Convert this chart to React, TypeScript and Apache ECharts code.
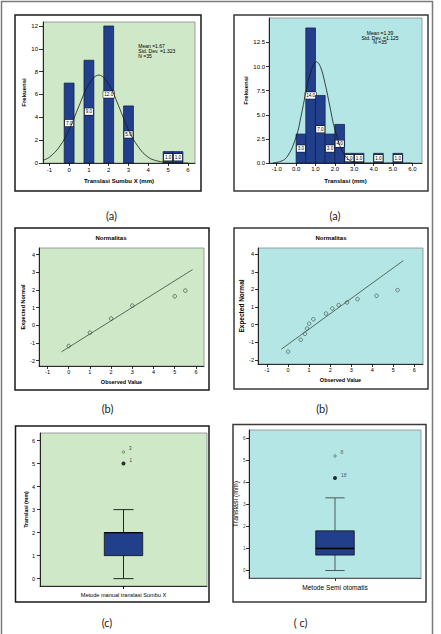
import React, { useEffect, useRef } from "react";
import * as echarts from "echarts";

// ---------- (a) left histogram ----------
const histLeftCenters = [0, 1, 2, 3, 5, 5.5];
const histLeftCounts = [7, 9, 12, 5, 1, 1];
const histLeftBinWidth = 0.5;
const histLeftCurveX = [-1.3, -1, -0.5, 0, 0.5, 1, 1.5, 2, 2.5, 3, 3.5, 4, 4.5, 5, 5.5, 6];
const histLeftCurveY = [0.25, 0.5, 1.4, 2.9, 5.0, 6.9, 7.7, 6.9, 5.0, 2.9, 1.4, 0.5, 0.16, 0.04, 0.01, 0];
const histLeftStats = ["Mean =1.67", "Std. Dev. =1.323", "N =35"];
const histLeftXTicks = [-1, 0, 1, 2, 3, 4, 5, 6];
const histLeftYTicks = [0, 2, 4, 6, 8, 10, 12];

// ---------- (a) right histogram ----------
const histRightStarts = [0, 0.5, 1, 1.5, 2, 2.5, 3, 4, 5];
const histRightCounts = [3, 14, 7, 3, 4, 1, 1, 1, 1];
const histRightBinWidth = 0.5;
const histRightCurveX = [-1.2, -1, -0.5, 0, 0.25, 0.5, 0.75, 1.05, 1.25, 1.5, 1.75, 2, 2.5, 3, 3.5, 4, 5, 6];
const histRightCurveY = [0.02, 0.06, 0.56, 2.7, 4.8, 7.3, 9.4, 10.5, 10.0, 8.2, 5.8, 3.5, 0.8, 0.1, 0.01, 0, 0, 0];
const histRightStats = ["Mean =1.39", "Std. Dev. =1.125", "N =35"];
const histRightXTicks = [-1, 0, 1, 2, 3, 4, 5, 6];
const histRightYTicks = [0, 2.5, 5, 7.5, 10, 12.5];

// ---------- (b) normal Q-Q plots ----------
const qqLeftObserved = [0, 1, 2, 3, 5, 5.5];
const qqLeftExpected = [-1.17, -0.42, 0.38, 1.11, 1.64, 1.96];
const qqLeftLineX = [-0.34, 5.84];
const qqLeftLineY = [-1.5, 3.15];
const qqRightObserved = [0, 0.6, 0.8, 0.9, 1.0, 1.2, 1.8, 2.1, 2.4, 2.8, 3.3, 4.2, 5.2];
const qqRightExpected = [-1.53, -0.86, -0.52, -0.22, 0.06, 0.31, 0.63, 0.92, 1.11, 1.26, 1.45, 1.64, 1.96];
const qqRightLineX = [-0.32, 5.48];
const qqRightLineY = [-1.39, 3.64];
const qqXTicks = [-1, 0, 1, 2, 3, 4, 5, 6];
const qqYTicks = [-2, -1, 0, 1, 2, 3, 4];
const qqTitle = "Normalitas";

// ---------- (c) box plots ----------
const boxLeftCategory = ["Metode manual translasi Sumbu X"];
const boxLeftStats = [0, 1, 2, 2, 3]; // min, Q1, median, Q3, max
const boxLeftOutlierValues = [5.5, 5.0];
const boxLeftOutlierLabels = ["3", "1"];
const boxLeftOutlierKinds = ["o", "*"];
const boxRightCategory = ["Metode Semi otomatis"];
const boxRightStats = [0, 0.7, 1.0, 1.8, 3.3];
const boxRightOutlierValues = [5.2, 4.2];
const boxRightOutlierLabels = ["8", "18"];
const boxRightOutlierKinds = ["o", "*"];
const boxYTicks = [0, 1, 2, 3, 4, 5, 6];

const captionsLeft = ["(a)", "(b)", "(c)"];
const captionsRight = ["(a)", "(b)", "( c)"];

// ---------- styles ----------
const GREEN = "#cfe8c8";
const CYAN = "#b3e6e4";
const NAVY = "#223f8c";
const FONT = "Liberation Sans";

function valueAxis(o: any) {
  return {
    type: "value",
    gridIndex: o.grid,
    min: o.min,
    max: o.max,
    splitLine: { show: false },
    axisLine: { show: true, onZero: false, lineStyle: { color: "#000", width: 0.8 } },
    axisTick: {
      show: true,
      length: o.tickLen ?? 3,
      customValues: o.ticks,
      lineStyle: { color: "#000", width: 0.8 },
    },
    axisLabel: {
      customValues: o.ticks,
      fontSize: o.fontSize ?? 6,
      margin: o.margin ?? 4,
      color: o.labelColor ?? "#000",
      fontFamily: FONT,
      formatter: o.fmt,
    },
    name: o.name,
    nameLocation: "middle",
    nameGap: o.nameGap,
    nameTextStyle: {
      fontSize: o.nameSize ?? 6,
      fontWeight: o.nameWeight ?? "bold",
      color: "#000",
      fontFamily: FONT,
    },
  };
}

function histSeries(gridIdx: number, items: number[][], fmt: (v: number) => string) {
  return {
    type: "custom",
    xAxisIndex: gridIdx,
    yAxisIndex: gridIdx,
    data: items,
    encode: { x: [0, 1], y: 2 },
    renderItem: (_p: any, api: any) => {
      const x0 = api.value(0);
      const x1 = api.value(1);
      const c = api.value(2);
      const tl = api.coord([x0, c]);
      const br = api.coord([x1, 0]);
      const mid = api.coord([(x0 + x1) / 2, c / 2]);
      return {
        type: "group",
        children: [
          {
            type: "rect",
            shape: { x: tl[0], y: tl[1], width: br[0] - tl[0], height: br[1] - tl[1] },
            style: { fill: NAVY, stroke: "#0c1b44", lineWidth: 0.7 },
          },
          {
            type: "text",
            x: mid[0],
            y: mid[1],
            style: {
              text: fmt(c),
              fill: "#000",
              fontSize: 4.6,
              fontFamily: FONT,
              align: "center",
              verticalAlign: "middle",
              backgroundColor: "#fff",
              borderColor: "#000",
              borderWidth: 0.5,
              padding: [1, 1, 0.5, 1],
            },
          },
        ],
      };
    },
  };
}

function curveSeries(gridIdx: number, xs: number[], ys: number[]) {
  return {
    type: "line",
    xAxisIndex: gridIdx,
    yAxisIndex: gridIdx,
    data: xs.map((x, i) => [x, ys[i]]),
    smooth: 0.4,
    symbol: "none",
    lineStyle: { color: "#1a1a1a", width: 0.8 },
    z: 5,
  };
}

function qqSeries(gridIdx: number, xs: number[], ys: number[], lx: number[], ly: number[], color: string) {
  return [
    {
      type: "line",
      xAxisIndex: gridIdx,
      yAxisIndex: gridIdx,
      data: lx.map((x, i) => [x, ly[i]]),
      symbol: "none",
      lineStyle: { color: "#3c4a3c", width: 0.8 },
    },
    {
      type: "scatter",
      xAxisIndex: gridIdx,
      yAxisIndex: gridIdx,
      data: xs.map((x, i) => [x, ys[i]]),
      symbol: "circle",
      symbolSize: 3.6,
      itemStyle: { color: "rgba(0,0,0,0)", borderColor: color, borderWidth: 0.8 },
    },
  ];
}

function boxSeries(gridIdx: number, stats: number[], halfBox: number, halfCap: number, whiskerColor: string) {
  return {
    type: "custom",
    xAxisIndex: gridIdx,
    yAxisIndex: gridIdx,
    data: [[0, ...stats]],
    encode: { x: 0, y: [1, 2, 3, 4, 5] },
    renderItem: (_p: any, api: any) => {
      const band = api.size([1, 0])[0];
      const cx = api.coord([0, 0])[0];
      const y = (k: number) => api.coord([0, api.value(k)])[1];
      const yMin = y(1), yQ1 = y(2), yMed = y(3), yQ3 = y(4), yMax = y(5);
      const hb = band * halfBox;
      const hc = band * halfCap;
      const ls = { stroke: whiskerColor, lineWidth: 1 };
      return {
        type: "group",
        children: [
          { type: "line", shape: { x1: cx, y1: yQ1, x2: cx, y2: yMin }, style: ls },
          { type: "line", shape: { x1: cx, y1: yQ3, x2: cx, y2: yMax }, style: ls },
          { type: "line", shape: { x1: cx - hc, y1: yMin, x2: cx + hc, y2: yMin }, style: ls },
          { type: "line", shape: { x1: cx - hc, y1: yMax, x2: cx + hc, y2: yMax }, style: ls },
          {
            type: "rect",
            shape: { x: cx - hb, y: yQ3, width: 2 * hb, height: yQ1 - yQ3 },
            style: { fill: NAVY, stroke: "#111", lineWidth: 0.8 },
          },
          { type: "line", shape: { x1: cx - hb, y1: yMed, x2: cx + hb, y2: yMed }, style: { stroke: "#000", lineWidth: 1.3 } },
        ],
      };
    },
  };
}

function outlierSeries(gridIdx: number, values: number[], labels: string[], kinds: string[], labelSize: number, labelColor: string) {
  return {
    type: "scatter",
    xAxisIndex: gridIdx,
    yAxisIndex: gridIdx,
    data: values.map((v, i) => ({
      value: [0, v],
      symbolSize: kinds[i] === "*" ? 4 : 2.4,
      itemStyle:
        kinds[i] === "*"
          ? { color: "#000" }
          : { color: "rgba(0,0,0,0)", borderColor: "#333", borderWidth: 0.7 },
      label: {
        show: true,
        formatter: labels[i],
        position: "right",
        offset: [-1, -3.5],
        fontSize: labelSize,
        color: labelColor,
        fontFamily: FONT,
      },
    })),
    z: 6,
  };
}

function text(x: number, y: number, t: string, size: number, opts: any = {}) {
  return {
    type: "text",
    x,
    y,
    z: 100,
    style: {
      text: t,
      fontSize: size,
      fontFamily: opts.family ?? FONT,
      fontWeight: opts.weight ?? "normal",
      fill: opts.color ?? "#000",
      align: opts.align ?? "center",
      verticalAlign: "middle",
      textAlign: opts.align ?? "center",
      textVerticalAlign: "middle",
    },
  };
}

function box(x: number, y: number, w: number, h: number, color: string, lw = 1.5) {
  return {
    type: "rect",
    z: 90,
    shape: { x, y, width: w, height: h },
    style: { fill: "none", stroke: color, lineWidth: lw },
  };
}

export default function App() {
  const ref = useRef<HTMLDivElement>(null);

  useEffect(() => {
    const chart = echarts.init(ref.current!, null, { renderer: "svg" });

    const histLeftItems = histLeftCenters.map((c, i) => [c - histLeftBinWidth / 2, c + histLeftBinWidth / 2, histLeftCounts[i]]);
    const histRightItems = histRightStarts.map((s, i) => [s, s + histRightBinWidth, histRightCounts[i]]);
    const fmt1 = (v: number) => v.toFixed(1);

    const grids = [
      { left: 43, top: 22, width: 152, height: 141, bg: GREEN },
      { left: 269, top: 18, width: 153, height: 145, bg: CYAN },
      { left: 39, top: 248, width: 165, height: 118, bg: GREEN },
      { left: 258, top: 248, width: 165, height: 116, bg: CYAN },
      { left: 40, top: 433, width: 167, height: 153, bg: GREEN },
      { left: 249, top: 430, width: 172, height: 148, bg: CYAN },
    ].map((g) => ({
      left: g.left,
      top: g.top,
      width: g.width,
      height: g.height,
      show: true,
      backgroundColor: g.bg,
      borderColor: "#8a8a8a",
      borderWidth: 0.8,
      containLabel: false,
    }));

    const option: any = {
      animation: false,
      textStyle: { fontFamily: FONT },
      grid: grids,
      xAxis: [
        valueAxis({ grid: 0, min: -1.32, max: 6.36, ticks: histLeftXTicks, name: "Translasi Sumbu X (mm)", nameGap: 15, margin: 4 }),
        valueAxis({ grid: 1, min: -1.4, max: 6.5, ticks: histRightXTicks, fmt: fmt1, name: "Translasi (mm)", nameGap: 15, margin: 3 }),
        valueAxis({ grid: 2, min: -1.4, max: 6.38, ticks: qqXTicks, name: "Observed Value", nameGap: 13, margin: 3, fontSize: 5.5, nameSize: 5.5 }),
        valueAxis({ grid: 3, min: -1.43, max: 6.41, ticks: qqXTicks, name: "Observed Value", nameGap: 13, margin: 3, fontSize: 5.5, nameSize: 5.5 }),
        {
          type: "category",
          gridIndex: 4,
          data: boxLeftCategory,
          axisLine: { show: true, onZero: false, lineStyle: { color: "#000", width: 0.8 } },
          axisTick: { show: true, alignWithLabel: true, length: 3, lineStyle: { color: "#000" } },
          axisLabel: { fontSize: 5.6, margin: 6, color: "#000", fontFamily: FONT },
        },
        {
          type: "category",
          gridIndex: 5,
          data: boxRightCategory,
          axisLine: { show: true, onZero: false, lineStyle: { color: "#333", width: 0.8 } },
          axisTick: { show: true, alignWithLabel: true, length: 3, lineStyle: { color: "#333" } },
          axisLabel: { fontSize: 6.6, margin: 6, color: "#000", fontFamily: FONT },
        },
      ],
      yAxis: [
        valueAxis({ grid: 0, min: 0, max: 12.35, ticks: histLeftYTicks, name: "Frekuensi", nameGap: 12, margin: 5, tickLen: 4 }),
        valueAxis({ grid: 1, min: 0, max: 15.03, ticks: histRightYTicks, fmt: fmt1, name: "Frekuensi", nameGap: 17, margin: 4, tickLen: 3 }),
        valueAxis({ grid: 2, min: -2.3, max: 4.37, ticks: qqYTicks, name: "Expected Normal", nameGap: 11, margin: 4, fontSize: 5.5, nameSize: 5.5 }),
        valueAxis({ grid: 3, min: -2.23, max: 4.35, ticks: qqYTicks, name: "Expected Normal", nameGap: 8, margin: 4, fontSize: 5.5, nameSize: 6.5 }),
        valueAxis({ grid: 4, min: -0.32, max: 6.33, ticks: boxYTicks, name: "Translasi (mm)", nameGap: 12, margin: 5, fontSize: 5.5, nameSize: 5.2 }),
        valueAxis({ grid: 5, min: -0.34, max: 6.38, ticks: boxYTicks, name: "Translasi (mm)", nameGap: 8, margin: 3.5, fontSize: 4.6, nameSize: 7, nameWeight: "normal", labelColor: "#444" }),
      ],
      series: [
        histSeries(0, histLeftItems, fmt1),
        curveSeries(0, histLeftCurveX, histLeftCurveY),
        histSeries(1, histRightItems, fmt1),
        curveSeries(1, histRightCurveX, histRightCurveY),
        ...qqSeries(2, qqLeftObserved, qqLeftExpected, qqLeftLineX, qqLeftLineY, "#2a3a2a"),
        ...qqSeries(3, qqRightObserved, qqRightExpected, qqRightLineX, qqRightLineY, "#3a4a4a"),
        boxSeries(4, boxLeftStats, 0.115, 0.06, "#1e2a1e"),
        outlierSeries(4, boxLeftOutlierValues, boxLeftOutlierLabels, boxLeftOutlierKinds, 4.5, "#000"),
        boxSeries(5, boxRightStats, 0.112, 0.056, "#4a5a5a"),
        outlierSeries(5, boxRightOutlierValues, boxRightOutlierLabels, boxRightOutlierKinds, 5, "#333"),
      ],
      graphic: [
        box(1.5, 1.5, 431, 650, "#7a7a7a", 1.5),
        box(15, 15, 186, 176, "#1a1a1a"),
        box(234, 15, 194, 176, "#3a3a3a"),
        box(15, 228, 194, 162, "#1a1a1a"),
        box(234, 228, 194, 161, "#3a3a3a"),
        box(15.5, 426, 193.5, 176, "#1a1a1a"),
        box(233, 424.5, 193, 177.5, "#3a3a3a"),
        ...histLeftStats.map((s, i) => text(138.3, 46.2 + i * 4.7, s, 5, { align: "left" })),
        ...histRightStats.map((s, i) => text(380, 33.3 + i * 4.5, s, 5)),
        text(111, 237.5, qqTitle, 6, { weight: "bold" }),
        text(331, 237.5, qqTitle, 6, { weight: "bold" }),
        text(111.5, 215, captionsLeft[0], 11, { family: "Lato", color: "#222" }),
        text(335, 215, captionsRight[0], 11, { family: "Lato", color: "#222" }),
        text(107.5, 408, captionsLeft[1], 11, { family: "Lato", color: "#222" }),
        text(322, 408, captionsRight[1], 11, { family: "Lato", color: "#222" }),
        text(107, 622.5, captionsLeft[2], 11, { family: "Lato", color: "#222" }),
        text(300.5, 622.5, captionsRight[2], 11, { family: "Lato", color: "#222" }),
      ],
    };

    chart.setOption(option);
    return () => chart.dispose();
  }, []);

  return (
    <div
      ref={ref}
      style={{ position: "absolute", left: 0, top: 0, width: 441, height: 634, background: "#fff" }}
    />
  );
}
